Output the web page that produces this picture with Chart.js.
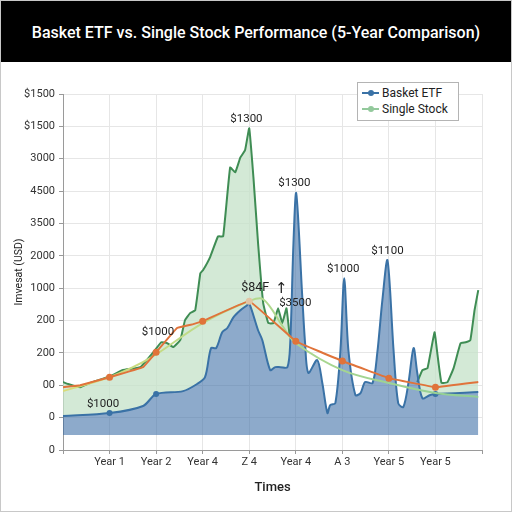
<!DOCTYPE html>
<html>
<head>
<meta charset="utf-8">
<script src="https://cdn.jsdelivr.net/npm/chart.js@4.4.1/dist/chart.umd.min.js"></script>
<style>
  html, body { margin: 0; padding: 0; background: #fff; }
  #wrap {
    position: relative; width: 512px; height: 512px; box-sizing: border-box;
    border: 1px solid #c8c8c8; overflow: hidden;
    font-family: Roboto, "Noto Sans", sans-serif;
  }
  #title {
    height: 61px; background: #000; color: #fff; font-size: 16px; font-weight: 500;
    text-align: center; line-height: 63px; white-space: nowrap;
  }
  #plot { position: absolute; left: 0; top: 61px; width: 510px; height: 449px; }
  #legend {
    position: absolute; left: 356px; top: 81px; width: 102px; box-sizing: border-box;
    border: 1px solid #b4b4b4; background: #fff; padding: 2px 0 3px 4px;
    font-size: 12px; color: #222; line-height: 16px;
  }
  .item { display: flex; align-items: center; white-space: nowrap; }
  .swatch { position: relative; width: 17px; height: 2px; margin-right: 3px; }
  .swatch i { position: absolute; left: 6px; top: -2px; width: 6px; height: 6px; border-radius: 50%; }
</style>
</head>
<body>
<div id="wrap">
  <div id="title">Basket ETF vs. Single Stock Performance (5-Year Comparison)</div>
  <div id="plot"><canvas id="chart"></canvas></div>
  <div id="legend"></div>
</div>
<script>
// axis labels (the y axis is drawn in "tick index" units)
const xTickLabels = ['', 'Year 1', 'Year 2', 'Year 4', 'Z 4', 'Year 4', 'A 3', 'Year 5', 'Year 5', ''];
const yTickLabels = ['0', '0', '00', '200', '200', '1000', '2000', '3500', '4500', '3000', '$1500', '$1500'];

// Basket ETF
const etfX = [0, 1, 1.72, 2, 2.58, 2.88, 3.05, 3.18, 3.29, 3.42, 3.53, 3.66, 3.81, 3.96, 4, 4.19, 4.28, 4.45,
  4.56, 4.67, 4.82, 4.88, 4.95, 5.01, 5.14, 5.2, 5.27, 5.46, 5.57, 5.68, 5.74, 5.85, 5.96, 6.04, 6.13, 6.28,
  6.39, 6.49, 6.65, 6.75, 6.86, 6.97, 7.1, 7.2, 7.31, 7.42, 7.53, 7.61, 7.72, 7.89, 8, 8.92];
const etfY = [1.05, 1.14, 1.36, 1.73, 1.82, 2.04, 2.25, 3.15, 3.15, 3.64, 3.77, 4.10, 4.32, 4.48, 4.54, 3.70, 3.40, 2.47,
  2.56, 2.56, 2.56, 3.30, 6.39, 7.93, 4.72, 3.30, 2.38, 2.78, 2.07, 1.14, 1.39, 1.45, 3.09, 5.31, 3.09, 1.70,
  1.76, 2.10, 2.07, 2.99, 4.63, 5.86, 3.09, 1.45, 1.33, 2.07, 3.15, 2.38, 1.60, 1.70, 1.73, 1.79];

// Single Stock (raw, jagged)
const stockX = [0, 0.11, 0.37, 0.58, 1.01, 1.29, 1.66, 1.94, 2.11, 2.24, 2.37, 2.52, 2.62, 2.73, 2.84, 2.95, 3.01,
  3.16, 3.33, 3.44, 3.59, 3.70, 3.81, 3.91, 4.0, 4.09, 4.19, 4.30, 4.41, 4.52, 4.62, 4.71, 4.80, 4.87, 6.0,
  7.61, 7.72, 7.83, 7.98, 8.04, 8.13, 8.26, 8.39, 8.54, 8.65, 8.75, 8.84, 8.92];
const stockY = [2.10, 2.04, 1.94, 2.07, 2.28, 2.47, 2.56, 3.02, 3.33, 3.30, 3.18, 3.40, 4.01, 4.23, 4.32, 5.46, 5.56,
  5.96, 6.60, 6.60, 8.73, 8.58, 9.04, 9.26, 9.94, 8.43, 6.39, 4.54, 3.92, 3.92, 4.38, 3.92, 4.38, 3.50, null,
  2.10, 2.47, 2.53, 3.64, 2.99, 2.07, 2.10, 2.53, 3.30, 3.33, 3.40, 4.32, 4.94];

// Single Stock (smoothed)
const smoothX = [0, 1, 1.87, 3, 4, 4.3, 4.73, 5, 6, 7, 8, 8.92];
const smoothY = [1.82, 2.25, 2.84, 3.92, 4.60, 4.66, 3.80, 3.30, 2.47, 2.07, 1.76, 1.64];

// trend line
const trendX = [0, 0.37, 1, 1.72, 2, 2.45, 2.8, 3, 4, 5, 6, 7, 8, 8.92];
const trendY = [1.94, 2.0, 2.25, 2.56, 3.02, 3.77, 3.89, 3.98, 4.60, 3.36, 2.75, 2.22, 1.94, 2.10];

// value labels
const noteText = ['$1300', '$1300', '$1000', '$1100', '$1000', '$1000', '$84F', '\u2191', '$3500'];
const noteX = [3.94, 4.97, 6.02, 6.97, 2.04, 0.86, 4.13, 4.69, 4.99];
const noteY = [10.22, 8.24, 5.59, 6.14, 3.64, 1.42, 5.0, 4.97, 4.54];

const FILL_BASE = 0.46;
const pts = (xs, ys) => xs.map((x, i) => ({ x: x, y: ys[i] }));
const onTick = (c) => c.raw && Number.isInteger(c.raw.x) && c.raw.x > 0;

function smoothColor(c) {
  const area = c.chart.chartArea;
  if (!area) return '#9fd39b';
  const g = c.chart.ctx.createLinearGradient(area.left, 0, area.right, 0);
  g.addColorStop(0, '#d9dc78');
  g.addColorStop(0.4, '#b6da8c');
  g.addColorStop(1, '#90cf96');
  return g;
}

const notesPlugin = {
  id: 'notes',
  afterDatasetsDraw(chart) {
    const { ctx, scales: { x, y } } = chart;
    ctx.save();
    ctx.fillStyle = '#222';
    ctx.textAlign = 'center';
    ctx.textBaseline = 'middle';
    noteText.forEach((t, i) => {
      ctx.font = (t === '$84F' ? '12.5px' : t === '\u2191' ? '15px' : '11.5px') + ' Roboto, "DejaVu Sans", sans-serif';
      ctx.fillText(t, x.getPixelForValue(noteX[i]), y.getPixelForValue(noteY[i]));
    });
    ctx.restore();
  }
};

const chart = new Chart(document.getElementById('chart'), {
  type: 'line',
  data: {
    datasets: [
      {
        label: 'Basket ETF', inLegend: true, order: 2,
        data: pts(etfX, etfY),
        borderColor: '#3a72a6', borderWidth: 2, tension: 0.3,
        backgroundColor: 'rgba(58,108,165,0.58)',
        fill: { value: FILL_BASE },
        pointRadius: (c) => onTick(c) && c.raw.x !== 4 ? 3 : 0,
        pointBackgroundColor: '#3a72a6', pointBorderWidth: 0
      },
      {
        label: 'Single Stock', inLegend: true, order: 1,
        data: pts(smoothX, smoothY),
        borderColor: smoothColor, borderWidth: 2, tension: 0.35,
        fill: false, pointRadius: 0,
        legendColor: '#93c99c'
      },
      {
        label: 'Single Stock (daily)', order: 3,
        data: pts(stockX, stockY),
        borderColor: '#3f8d54', borderWidth: 2, tension: 0.1,
        spanGaps: false,
        fill: { target: 0, above: 'rgba(196,226,200,0.75)', below: 'rgba(0,0,0,0)' },
        pointRadius: 0
      },
      {
        label: 'Trend', order: 0,
        data: pts(trendX, trendY),
        borderColor: '#e0733a', borderWidth: 2, tension: 0.05,
        fill: false,
        pointRadius: (c) => onTick(c) ? 3.5 : 0,
        pointBackgroundColor: (c) => c.raw && c.raw.x === 4 ? '#e2c4a4' : '#e0733a',
        pointBorderWidth: 0
      }
    ]
  },
  options: {
    responsive: true,
    maintainAspectRatio: false,
    animation: false,
    layout: { padding: { top: 32, right: 29, left: 0, bottom: 0 } },
    plugins: {
      legend: { display: false },
      title: { display: false },
      tooltip: { enabled: false }
    },
    scales: {
      x: {
        type: 'linear', min: 0, max: 9,
        afterFit: (s) => { s.height = 61; },
        ticks: {
          stepSize: 1, autoSkip: false, maxRotation: 0, padding: 2,
          color: '#333', font: { family: 'Roboto', size: 11 },
          callback: (v) => xTickLabels[v] || ''
        },
        grid: { color: '#e6e6e6', tickColor: '#999', tickLength: 4 },
        border: { color: '#9a9a9a' },
        title: {
          display: true, text: 'Times', color: '#222',
          font: { family: 'Roboto', size: 13, weight: '500' },
          padding: { top: 4, bottom: 15 }
        }
      },
      y: {
        type: 'linear', min: 0, max: 11,
        afterFit: (s) => { s.width = 62; },
        ticks: {
          stepSize: 1, autoSkip: false, padding: 4,
          color: '#333', font: { family: 'Roboto', size: 11 },
          callback: (v) => yTickLabels[v] || ''
        },
        grid: { color: '#e6e6e6', tickColor: '#999', tickLength: 4 },
        border: { color: '#9a9a9a' },
        title: {
          display: true, text: 'Imvesat (USD)', color: '#222',
          font: { family: 'Roboto', size: 10.5 },
          padding: { top: 12, bottom: 0 }
        }
      }
    }
  },
  plugins: [notesPlugin]
});

// legend box inside the plot
const legend = document.getElementById('legend');
chart.data.datasets.filter((d) => d.inLegend).forEach((d) => {
  const color = d.legendColor || d.borderColor;
  const row = document.createElement('div');
  row.className = 'item';
  row.innerHTML = '<span class="swatch" style="background:' + color + '"><i style="background:' + color +
    '"></i></span>' + d.label;
  legend.appendChild(row);
});
</script>
</body>
</html>
